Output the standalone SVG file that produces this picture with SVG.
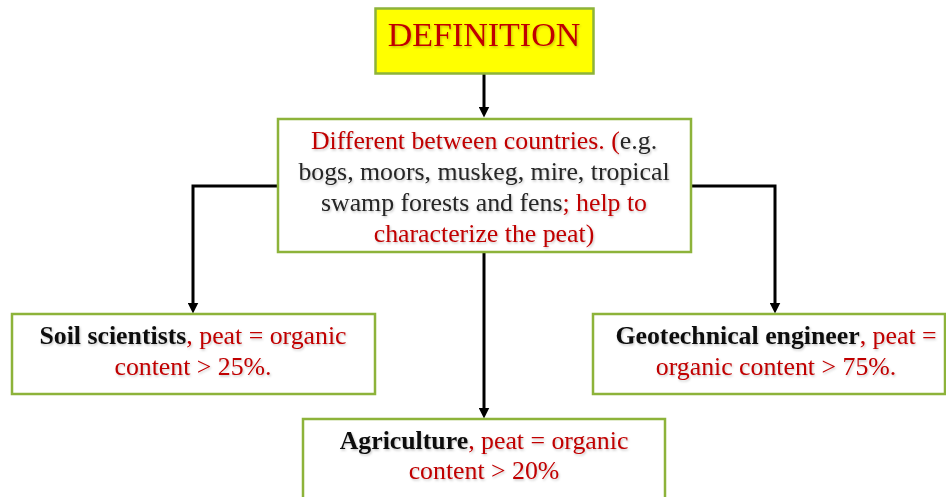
<svg xmlns="http://www.w3.org/2000/svg" width="946" height="497" viewBox="0 0 946 497">
<style>
.box{fill:#fff;stroke:#8db33a;stroke-width:2.5}
.t{font-family:"Liberation Serif","Times New Roman",serif;font-size:25.8px;text-anchor:middle;filter:url(#sh)}
.r{fill:#c00000}
.k{fill:#262626}
.b{font-weight:bold;fill:#111}
.c{fill:none;stroke:#000;stroke-width:3}
</style>
<defs>
<marker id="ah" markerWidth="11" markerHeight="11" refX="5.5" refY="5.5" orient="auto" markerUnits="userSpaceOnUse"><path d="M0,0 L11,5.5 L0,11 z" fill="#000"/></marker>
<filter id="sh" x="-5%" y="-20%" width="110%" height="150%"><feDropShadow dx="1" dy="1.5" stdDeviation="1" flood-color="#000" flood-opacity="0.22"/></filter>
</defs>
<g id="connectors">
<path class="c" d="M484,74 V112" marker-end="url(#ah)"/>
<path class="c" d="M278,186 H193 V308" marker-end="url(#ah)"/>
<path class="c" d="M691,186 H775 V308" marker-end="url(#ah)"/>
<path class="c" d="M484,252 V413" marker-end="url(#ah)"/>
</g>
<g id="definition">
<rect x="375.5" y="8.5" width="218" height="65" fill="#ffff00" stroke="#8db33a" stroke-width="2.5"/>
<text class="t r" x="484" y="46" style="font-size:34px">DEFINITION</text>
</g>
<g id="countries">
<rect class="box" x="278" y="119" width="413" height="133"/>
<text class="t" x="484" y="149"><tspan class="r">Different between countries. </tspan><tspan class="r">(</tspan><tspan class="k">e.g.</tspan></text>
<text class="t k" x="484" y="180">bogs, moors, muskeg, mire, tropical</text>
<text class="t" x="484" y="211"><tspan class="k">swamp forests and fens</tspan><tspan class="r">; help to</tspan></text>
<text class="t r" x="484" y="242">characterize the peat)</text>
</g>
<g id="soil">
<rect class="box" x="12" y="314" width="363" height="80"/>
<text class="t" x="193" y="344"><tspan class="b">Soil scientists</tspan><tspan class="r">, peat = organic</tspan></text>
<text class="t r" x="193" y="375">content &gt; 25%.</text>
</g>
<g id="geotech">
<rect class="box" x="593" y="314" width="352" height="80"/>
<text class="t" x="776" y="344"><tspan class="b">Geotechnical engineer</tspan><tspan class="r">, peat =</tspan></text>
<text class="t r" x="776" y="375">organic content &gt; 75%.</text>
</g>
<g id="agriculture">
<rect class="box" x="303" y="419" width="362" height="90"/>
<text class="t" x="484" y="449"><tspan class="b">Agriculture</tspan><tspan class="r">, peat = organic</tspan></text>
<text class="t r" x="484" y="479">content &gt; 20%</text>
</g>
</svg>
